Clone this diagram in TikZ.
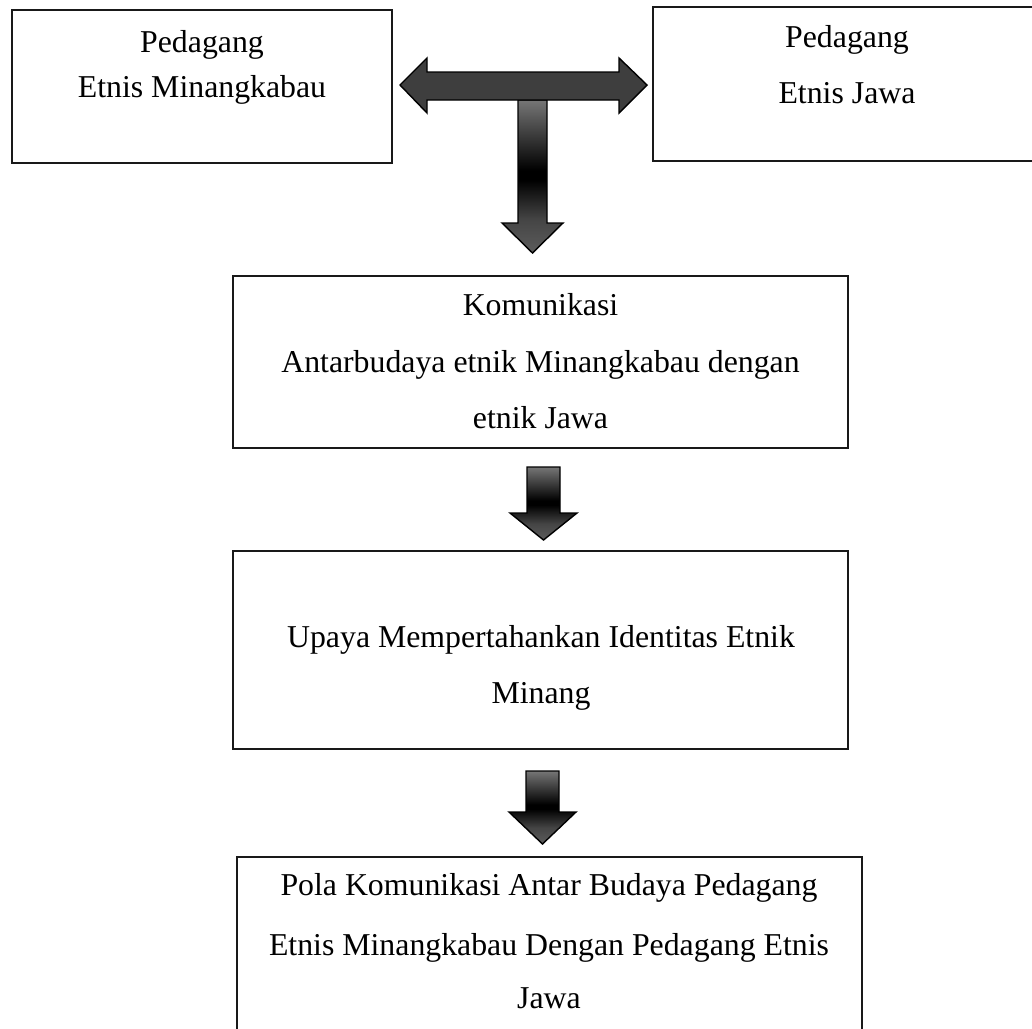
\documentclass[tikz,border=0pt]{standalone}
\usepackage{fontspec}
\setmainfont{Liberation Serif}
\definecolor{tgray}{RGB}{118,118,118}
\definecolor{hgray}{RGB}{92,92,92}
\definecolor{bargray}{RGB}{62,62,62}
\pgfdeclareverticalshading{arrowshade}{100bp}{color(0bp)=(hgray); color(25bp)=(hgray); color(36bp)=(hgray!75!black); color(49bp)=(black); color(52bp)=(black); color(75bp)=(tgray); color(100bp)=(tgray)}
\begin{document}
\begin{tikzpicture}[x=1pt,y=-1pt,
  box/.style={draw=black!90, line width=1.6pt, inner sep=0pt},
  txt/.style={font=\fontsize{31.8}{38}\selectfont, inner sep=0pt, anchor=base},
  blk/.style={draw=black, line width=1.4pt, line join=miter},
  shadedarrow/.style={blk, shading=arrowshade}]
\useasboundingbox (0,0) rectangle (1032,1028);
\fill[white] (0,0) rectangle (1032,1028);
\clip (0,0) rectangle (1032,1028);
% boxes
\node[box, minimum width=380pt, minimum height=153pt] (b1) at (202,86.5) {};
\node[box, minimum width=388pt, minimum height=154pt] (b2) at (847,84) {};
\node[box, minimum width=615pt, minimum height=172pt] (b3) at (540.5,362) {};
\node[box, minimum width=615pt, minimum height=198pt] (b4) at (540.5,650) {};
\node[box, minimum width=625pt, minimum height=203pt] (b5) at (549.5,958.5) {};
% texts
\node[txt] (t1a) at (202,52) {Pedagang};
\node[txt] (t1b) at (202,97) {Etnis Minangkabau};
\node[txt] (t2a) at (847,47) {Pedagang};
\node[txt] (t2b) at (847,103) {Etnis Jawa};
\node[txt] (t3a) at (540.5,315) {Komunikasi};
\node[txt] (t3b) at (540.5,372) {Antarbudaya etnik Minangkabau dengan};
\node[txt] (t3c) at (540.5,428) {etnik Jawa};
\node[txt] (t4a) at (541,647) {Upaya Mempertahankan Identitas Etnik};
\node[txt] (t4b) at (541,703) {Minang};
\node[txt] (t5a) at (549,895) {Pola Komunikasi Antar Budaya Pedagang};
\node[txt] (t5b) at (549,955) {Etnis Minangkabau Dengan Pedagang Etnis};
\node[txt] (t5c) at (549,1008) {Jawa};
% T arrow: vertical part
\path[shadedarrow]
  (518,100) -- (547,100) -- (547,223) -- (563,223) -- (532.5,253)
  -- (502,223) -- (518,223) -- cycle;
% T arrow: horizontal double arrow
\path[blk, fill=bargray]
  (400,85) -- (427,58) -- (427,72) -- (619,72) -- (619,58) -- (647,85)
  -- (619,113) -- (619,100) -- (427,100) -- (427,113) -- cycle;
% arrow between b3 and b4
\path[shadedarrow]
  (527,467) -- (560,467) -- (560,513) -- (577,513) -- (543.5,540)
  -- (510,513) -- (527,513) -- cycle;
% arrow between b4 and b5
\path[shadedarrow]
  (526,771) -- (559,771) -- (559,812) -- (576,812) -- (542.5,844)
  -- (509,812) -- (526,812) -- cycle;
\end{tikzpicture}
\end{document}
